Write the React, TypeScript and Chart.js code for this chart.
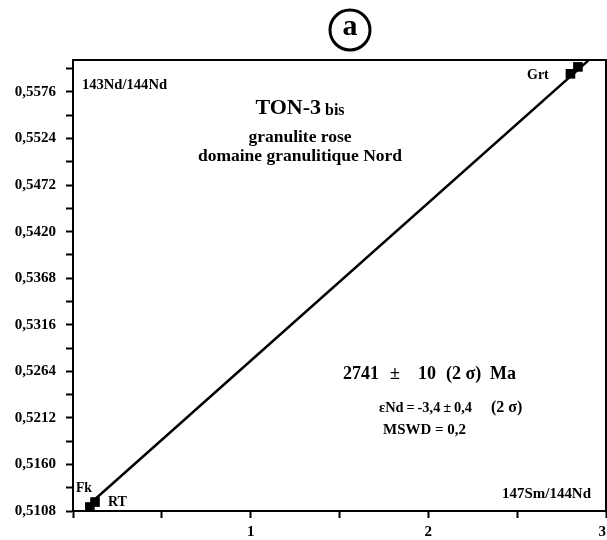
import React, { useEffect, useRef } from "react";
import { Chart, registerables } from "chart.js";

Chart.register(...registerables);

// ---- data ----
const sampleNames = ["Fk", "RT", "Grt", "Grt"];
const smNd = [0.095, 0.124, 2.8, 2.842]; // 147Sm/144Nd
const ndNd = [0.51125, 0.5118, 0.55963, 0.5604]; // 143Nd/144Nd
const isochronX = [0.1, 2.9];
const isochronY = [0.5117, 0.5611];

const yTickValues = [
  0.5108, 0.5134, 0.516, 0.5186, 0.5212, 0.5238, 0.5264, 0.529, 0.5316, 0.5342,
  0.5368, 0.5394, 0.542, 0.5446, 0.5472, 0.5498, 0.5524, 0.555, 0.5576, 0.5602,
];
const yTickLabels = [
  "0,5108", "", "0,5160", "", "0,5212", "", "0,5264", "", "0,5316", "",
  "0,5368", "", "0,5420", "", "0,5472", "", "0,5524", "", "0,5576", "",
];
const xTickValues = [0, 0.5, 1, 1.5, 2, 2.5, 3];
const xTickLabels = ["", "", "1", "", "2", "", "3\u2002"];

const SERIF = '"Liberation Serif", "Times New Roman", serif';

type Note = { t: string; x: number; y: number; size: number; w?: number; align?: CanvasTextAlign };
const notes: Note[] = [
  { t: "143Nd/144Nd", x: 82, y: 85, size: 15, w: 85 },
  { t: "granulite rose", x: 300, y: 137, size: 17.5, w: 105, align: "center" },
  { t: "domaine granulitique Nord", x: 300, y: 156, size: 17.5, w: 207, align: "center" },
  { t: "2741", x: 343, y: 374, size: 18 },
  { t: "±", x: 390, y: 374, size: 18 },
  { t: "10", x: 418, y: 374, size: 18 },
  { t: "(2 σ)", x: 446, y: 374, size: 18 },
  { t: "Ma", x: 490, y: 374, size: 18 },
  { t: "εNd\u2009=\u2009-3,4\u2009±\u20090,4", x: 379, y: 408, size: 14.5, w: 93 },
  { t: "(2 σ)", x: 491, y: 408, size: 16, w: 39 },
  { t: "MSWD = 0,2", x: 383, y: 430, size: 15, w: 83 },
  { t: "147Sm/144Nd", x: 502, y: 494, size: 15, w: 89 },
  { t: "Grt", x: 527, y: 75, size: 14, w: 22 },
  { t: "Fk", x: 76, y: 488, size: 14, w: 16 },
  { t: "RT", x: 108, y: 502, size: 14, w: 19 },
];

const annotationPlugin = {
  id: "annotations",
  afterDraw(chart: any) {
    const ctx = chart.ctx as CanvasRenderingContext2D;
    const { left, right, top, bottom } = chart.chartArea;
    ctx.save();
    // top & right frame
    ctx.strokeStyle = "#000";
    ctx.lineWidth = 2;
    ctx.beginPath();
    ctx.moveTo(left - 1, top);
    ctx.lineTo(right, top);
    ctx.lineTo(right, bottom);
    ctx.stroke();

    // circled "a"
    ctx.lineWidth = 3;
    ctx.beginPath();
    ctx.arc(350, 30, 20, 0, Math.PI * 2);
    ctx.stroke();
    ctx.fillStyle = "#000";
    ctx.textAlign = "center";
    ctx.textBaseline = "middle";
    ctx.font = `bold 30px ${SERIF}`;
    ctx.fillText("a", 350, 27);

    ctx.textBaseline = "middle";
    for (const n of notes) {
      ctx.font = `bold ${n.size}px ${SERIF}`;
      ctx.textAlign = n.align || "left";
      if (n.w) ctx.fillText(n.t, n.x, n.y, n.w);
      else ctx.fillText(n.t, n.x, n.y);
    }

    // TON-3 bis
    ctx.textAlign = "left";
    ctx.font = `bold 22px ${SERIF}`;
    const w1 = ctx.measureText("TON-3").width;
    ctx.font = `bold 16px ${SERIF}`;
    const w2 = ctx.measureText(" bis").width;
    const sx = 300 - (w1 + w2) / 2;
    ctx.font = `bold 22px ${SERIF}`;
    ctx.fillText("TON-3", sx, 108);
    ctx.font = `bold 16px ${SERIF}`;
    ctx.fillText(" bis", sx + w1, 111);
    ctx.restore();
  },
};

export default function App() {
  const ref = useRef<HTMLCanvasElement>(null);
  useEffect(() => {
    if (!ref.current) return;
    const chart = new Chart(ref.current, {
      type: "scatter",
      data: {
        datasets: [
          {
            label: "isochron",
            data: isochronX.map((x, i) => ({ x, y: isochronY[i] })),
            showLine: true,
            borderColor: "#000",
            borderWidth: 2.5,
            pointRadius: 0,
          },
          {
            label: "samples",
            data: smNd.map((x, i) => ({ x, y: ndNd[i], name: sampleNames[i] })),
            pointStyle: "rect",
            pointRadius: 6.8,
            backgroundColor: "#000",
            borderColor: "#000",
            borderWidth: 0,
          },
        ],
      },
      options: {
        responsive: false,
        animation: false,
        layout: { autoPadding: false, padding: { top: 60, right: 1, left: 0, bottom: 0 } },
        plugins: { legend: { display: false }, tooltip: { enabled: false } },
        scales: {
          x: {
            type: "linear",
            min: 0,
            max: 3,
            afterFit: (s: any) => {
              s.height = 29;
              s.paddingLeft = 0;
              s.paddingRight = 0;
            },
            afterBuildTicks: (s: any) => {
              s.ticks = xTickValues.map((v) => ({ value: v }));
            },
            ticks: {
              autoSkip: false,
              maxRotation: 0,
              padding: 5,
              color: "#000",
              font: { family: SERIF, size: 15, weight: "bold" },
              callback: (v: any) => {
                const i = xTickValues.indexOf(Number(v));
                return i >= 0 ? xTickLabels[i] : "";
              },
            },
            grid: { drawOnChartArea: false, drawTicks: true, tickLength: 7, tickColor: "#000", tickWidth: 2 },
            border: { display: true, color: "#000", width: 2 },
          },
          y: {
            type: "linear",
            min: 0.5108,
            max: 0.56117,
            afterFit: (s: any) => {
              s.width = 73;
              s.paddingTop = 0;
              s.paddingBottom = 0;
            },
            afterBuildTicks: (s: any) => {
              s.ticks = yTickValues.map((v) => ({ value: v }));
            },
            ticks: {
              autoSkip: false,
              padding: 10,
              color: "#000",
              font: { family: SERIF, size: 15, weight: "bold" },
              callback: (v: any) => {
                const i = yTickValues.findIndex((t) => Math.abs(t - Number(v)) < 1e-7);
                return i >= 0 ? yTickLabels[i] : "";
              },
            },
            grid: { drawOnChartArea: false, drawTicks: true, tickLength: 7, tickColor: "#000", tickWidth: 2 },
            border: { display: true, color: "#000", width: 2 },
          },
        },
      },
      plugins: [annotationPlugin],
    });
    return () => chart.destroy();
  }, []);
  return (
    <div style={{ position: "absolute", left: 0, top: 0, width: 607, height: 540, background: "#fff" }}>
      <canvas ref={ref} width={607} height={540} />
    </div>
  );
}
